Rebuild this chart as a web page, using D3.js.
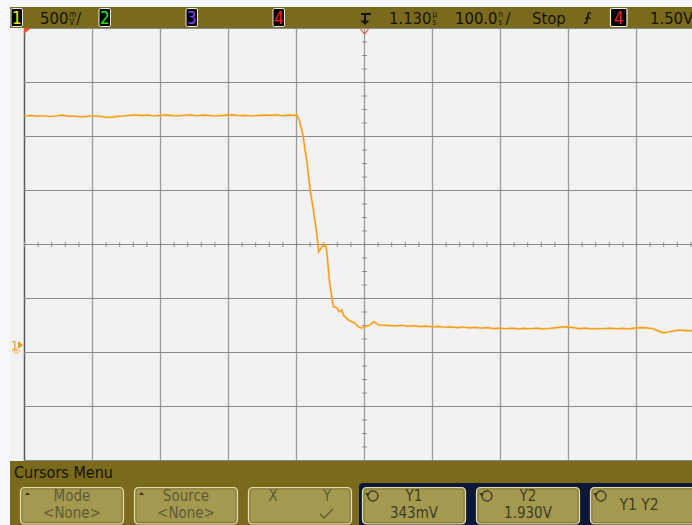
<!DOCTYPE html>
<html>
<head>
<meta charset="utf-8">
<script src="https://cdn.jsdelivr.net/npm/d3@7"></script>
<style>
  body { margin: 0; background: #f5f7fa; }
  text { font-family: "Liberation Sans Narrow", "DejaVu Sans Condensed", "Arial Narrow", sans-serif; }
</style>
</head>
<body>
<script>
// trace samples, [time in ns from trigger, volts]
const highLevel = [[-500,2.120],[-490,2.125],[-481,2.118],[-472,2.122],[-463,2.115],[-454,2.120],[-445,2.127],[-436,2.118],[-427,2.120],[-418,2.112],[-409,2.116],[-400,2.122],[-391,2.118],[-382,2.110],[-373,2.108],[-364,2.116],[-355,2.120],[-346,2.125],[-337,2.130],[-328,2.124],[-319,2.128],[-310,2.120],[-301,2.126],[-292,2.130],[-283,2.124],[-274,2.121],[-265,2.127],[-256,2.130],[-247,2.122],[-238,2.128],[-229,2.125],[-220,2.120],[-211,2.124],[-202,2.128],[-193,2.130],[-184,2.122],[-175,2.126],[-166,2.120],[-157,2.124],[-148,2.128],[-139,2.125],[-130,2.130],[-121,2.122],[-112,2.128],[-104,2.124]];
const fallEdge = [[-99.7,2.130],[-95.9,2.083],[-90.0,1.929],[-87.5,1.806],[-85.0,1.713],[-81.6,1.528],[-80.1,1.435],[-76.8,1.315],[-73.8,1.188],[-70.3,1.037],[-67.4,0.864],[-65.4,0.880],[-60.6,0.926],[-56.6,0.910],[-54.7,0.818],[-51.8,0.602],[-48.2,0.447],[-45.9,0.355],[-40.9,0.343],[-37.1,0.308],[-33.5,0.324],[-31.2,0.278],[-23.8,0.231],[-18.8,0.216],[-14.0,0.201],[-9.1,0.169],[-4.1,0.155],[0.7,0.169],[8.1,0.185],[14.0,0.216],[20.3,0.185],[37.5,0.179]];
const lowLevel = [[46,0.176],[55,0.182],[64,0.172],[73,0.178],[82,0.170],[91,0.174],[100,0.166],[109,0.172],[118,0.164],[127,0.168],[136,0.160],[145,0.166],[154,0.158],[163,0.162],[172,0.155],[181,0.160],[190,0.152],[199,0.156],[208,0.150],[217,0.155],[226,0.148],[235,0.153],[244,0.150],[253,0.155],[262,0.148],[271,0.152],[280,0.158],[289,0.165],[298,0.168],[307,0.160],[316,0.152],[325,0.155],[334,0.148],[343,0.152],[352,0.150],[361,0.156],[370,0.150],[379,0.154],[388,0.148],[397,0.156],[406,0.160],[415,0.158],[424,0.150],[433,0.128],[440,0.112],[447,0.120],[456,0.132],[465,0.138],[474,0.130],[483,0.134]];

// grid divisions
const timeDivs = [-500,-400,-300,-200,-100,0,100,200,300,400,500];
const voltDivs = [-1.07,-0.57,-0.07,0.43,0.93,1.43,1.93,2.43,2.93];
const centerVolt = 0.93;

// status bar and softkeys
const channels = [{n:"1", x:11, color:"#f0f000"}, {n:"2", x:99, color:"#20e020"}, {n:"3", x:186, color:"#8a3cff"}, {n:"4", x:273, color:"#ff2030"}];
const keys = [
  {x:20, w:104, l1:"Mode", l2:"<None>", arrow:true, dim:true},
  {x:134, w:104, l1:"Source", l2:"<None>", arrow:true, dim:true},
  {x:362, w:104, l1:"Y1", l2:"343mV", knob:true},
  {x:476, w:104, l1:"Y2", l2:"1.930V", knob:true},
  {x:590, w:110, l1:"Y1 Y2", l2:"", knob:true}
];

const W = 692, H = 525;
const svg = d3.select("body").append("svg").attr("width", W).attr("height", H);

const x = d3.scaleLinear().domain([-500, 500]).range([24.5, 704.5]);
const y = d3.scaleLinear().domain([-1.07, 2.93]).range([460.5, 28.5]);

// screen background
svg.append("rect").attr("x", 10).attr("y", 28).attr("width", W - 10).attr("height", 433).attr("fill", "#f2f2f2");

// grid
const grid = svg.append("g");
grid.selectAll(".vl").data(timeDivs).enter().append("line")
  .attr("x1", d => x(d)).attr("x2", d => x(d)).attr("y1", 28).attr("y2", 461)
  .attr("stroke", (d, i) => i === 0 ? "#5a5a5a" : "#9a9a9a").attr("stroke-width", (d, i) => i === 0 ? 1.5 : 1.3);
grid.selectAll(".hl").data(voltDivs).enter().append("line")
  .attr("x1", 24).attr("x2", W).attr("y1", d => y(d)).attr("y2", d => y(d))
  .attr("stroke", "#8a8a8a").attr("stroke-width", 1);

// minor ticks on center axes
const tTicks = d3.range(-500, 501, 20);
grid.selectAll(".tt").data(tTicks).enter().append("line")
  .attr("x1", d => x(d)).attr("x2", d => x(d))
  .attr("y1", y(centerVolt) - 2.5).attr("y2", y(centerVolt) + 2.5)
  .attr("stroke", "#8a8a8a");
const vTicks = d3.range(-1.07, 2.94, 0.125);
grid.selectAll(".vt").data(vTicks).enter().append("line")
  .attr("x1", x(0) - 2.5).attr("x2", x(0) + 2.5)
  .attr("y1", d => y(d)).attr("y2", d => y(d))
  .attr("stroke", "#8a8a8a");

// waveform
svg.append("clipPath").attr("id", "scr").append("rect")
  .attr("x", 24).attr("y", 28).attr("width", W - 24).attr("height", 433);
const trace = highLevel.concat(fallEdge, lowLevel);
const line = d3.line().x(d => x(d[0])).y(d => y(d[1]));
const wg = svg.append("g").attr("clip-path", "url(#scr)");
wg.append("path").datum(trace).attr("d", line)
  .attr("fill", "none").attr("stroke", "#f8c880").attr("stroke-width", 2.6).attr("opacity", 0.6);
wg.append("path").datum(trace).attr("d", line)
  .attr("fill", "none").attr("stroke", "#f29a10").attr("stroke-width", 1.2);

// ground marker for ch1
const gy = y(0);
svg.append("text").attr("x", 11).attr("y", gy + 5).attr("font-size", 13).attr("fill", "#f29a10").text("1");
svg.append("path").attr("d", `M18,${gy - 4} L23,${gy} L18,${gy + 4} Z`).attr("fill", "#f29a10");
svg.append("path").attr("d", `M16,${gy + 2} V${gy + 6} M12,${gy + 6} H21 M14,${gy + 8} H19`)
  .attr("stroke", "#f5c27a").attr("stroke-width", 1.2).attr("fill", "none");

// trigger markers
svg.append("path").attr("d", "M24,28 L31,28 L24,34 Z").attr("fill", "#e8502a");
svg.append("path").attr("d", `M${x(0) - 4},29 L${x(0)},34 L${x(0) + 4},29`)
  .attr("fill", "none").attr("stroke", "#e8502a").attr("stroke-width", 1.2);

// top status bar
const bar = svg.append("g");
bar.append("rect").attr("x", 10).attr("y", 7).attr("width", W - 10).attr("height", 21).attr("fill", "#7a6a1c");

channels.forEach(c => {
  bar.append("rect").attr("x", c.x).attr("y", 8.5).attr("width", 11.5).attr("height", 18).attr("rx", 1.5)
    .attr("fill", "#000").attr("stroke", "#e8e8e8").attr("stroke-width", 1);
  bar.append("text").attr("x", c.x + 5.8).attr("y", 24).attr("text-anchor", "middle")
    .attr("font-size", 17).attr("fill", c.color).text(c.n);
});

const ink = "#15140a";
function unitText(xp, big, u1, u2, slash) {
  const t = bar.append("text").attr("x", xp).attr("y", 24).attr("font-size", 16.5).attr("fill", ink).text(big);
  const bw = t.node().getComputedTextLength();
  bar.append("text").attr("x", xp + bw + 1).attr("y", 17).attr("font-size", 8).attr("fill", ink).text(u1);
  bar.append("text").attr("x", xp + bw + 1).attr("y", 24.5).attr("font-size", 8).attr("fill", ink).text(u2);
  if (slash) bar.append("text").attr("x", xp + bw + 8).attr("y", 24).attr("font-size", 16.5).attr("fill", ink).text("/");
}
unitText(40, "500", "m", "V", true);
unitText(389, "1.130", "µ", "s", false);
unitText(455, "100.0", "n", "s", true);
bar.append("text").attr("x", 532).attr("y", 24).attr("font-size", 16.5).attr("fill", ink).text("Stop");
bar.append("text").attr("x", 650).attr("y", 24).attr("font-size", 16.5).attr("fill", ink).text("1.50V");

// trigger delay icon
bar.append("path").attr("d", "M361,14 H371 M365,14 V22").attr("stroke", ink).attr("stroke-width", 2).attr("fill", "none");
bar.append("path").attr("d", "M360.5,20.5 L369.5,20.5 L365,25 Z").attr("fill", ink);
// slope icon
bar.append("path").attr("d", "M584,23 H586.5 L588.5,13 H591").attr("stroke", ink).attr("stroke-width", 1.5).attr("fill", "none");
bar.append("path").attr("d", "M585.5,19 L588,16.5 L590.5,19").attr("stroke", ink).attr("stroke-width", 1.2).attr("fill", "none");
// trigger source box
bar.append("rect").attr("x", 610.5).attr("y", 8.5).attr("width", 16.5).attr("height", 18).attr("rx", 1.5)
  .attr("fill", "#000").attr("stroke", "#f0f0f0").attr("stroke-width", 1.2);
bar.append("text").attr("x", 618.8).attr("y", 24).attr("text-anchor", "middle").attr("font-size", 17).attr("fill", "#ff2030").text("4");

// softkey menu
const menu = svg.append("g");
menu.append("rect").attr("x", 10).attr("y", 461).attr("width", W - 10).attr("height", 64).attr("fill", "#7a6a1c");
menu.append("text").attr("x", 14).attr("y", 478).attr("font-size", 16).attr("fill", ink).text("Cursors Menu");
menu.append("rect").attr("x", 359).attr("y", 483).attr("width", 360).attr("height", 50).attr("rx", 4).attr("fill", "#0d1838");

function keyBox(xp, w) {
  menu.append("rect").attr("x", xp + 0.5).attr("y", 487.5).attr("width", w - 1).attr("height", 36.5).attr("rx", 4)
    .attr("fill", "#a39a50").attr("stroke", "#e4dcae").attr("stroke-width", 1.2);
  menu.append("rect").attr("x", xp + 2).attr("y", 489).attr("width", w - 4).attr("height", 33.5).attr("rx", 3)
    .attr("fill", "none").attr("stroke", "#4a4420").attr("stroke-width", 0.6).attr("opacity", 0.6);
}

keys.forEach(k => {
  keyBox(k.x, k.w);
  const cx = k.x + k.w / 2;
  const col = k.dim ? "#5e5a36" : "#3f3c22";
  if (k.l2) {
    menu.append("text").attr("x", cx).attr("y", 501).attr("text-anchor", "middle").attr("font-size", 15).attr("fill", col).text(k.l1);
    menu.append("text").attr("x", cx).attr("y", 518).attr("text-anchor", "middle").attr("font-size", 15).attr("fill", col).text(k.l2);
  } else {
    menu.append("text").attr("x", cx - 6).attr("y", 510).attr("text-anchor", "middle").attr("font-size", 15.5).attr("fill", col).text(k.l1);
  }
  if (k.arrow) {
    menu.append("path").attr("d", `M${k.x + 5},${495} L${k.x + 7.5},${492} L${k.x + 10},${495} Z`).attr("fill", "#3a3820");
  }
  if (k.knob) {
    const kx = k.x + 11, ky = 496;
    menu.append("path").attr("d", d3.arc()({innerRadius: 5, outerRadius: 5, startAngle: -Math.PI * 1.55, endAngle: Math.PI * 0.45}))
      .attr("transform", `translate(${kx},${ky})`).attr("fill", "none").attr("stroke", "#3a3820").attr("stroke-width", 1.3);
    menu.append("path").attr("d", `M${kx - 8},${ky - 3} L${kx - 4},${ky - 3} L${kx - 5},${ky + 1} Z`).attr("fill", "#3a3820");
  }
});

// X / Y key
keyBox(248, 104);
menu.append("text").attr("x", 273).attr("y", 501).attr("text-anchor", "middle").attr("font-size", 15).attr("fill", "#5e5a36").text("X");
menu.append("text").attr("x", 327).attr("y", 501).attr("text-anchor", "middle").attr("font-size", 15).attr("fill", "#5e5a36").text("Y");
menu.append("path").attr("d", "M320,514 L324,518 L333,509").attr("fill", "none").attr("stroke", "#5e5a36").attr("stroke-width", 1.3);
</script>
</body>
</html>
